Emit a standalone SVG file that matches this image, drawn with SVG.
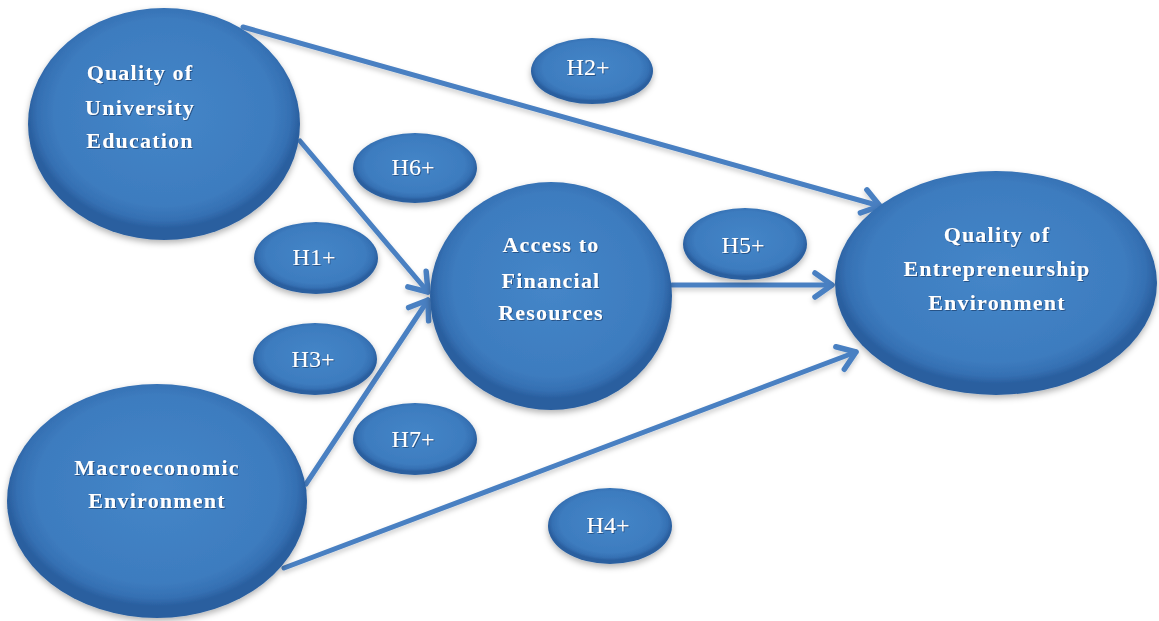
<svg xmlns="http://www.w3.org/2000/svg" width="1159" height="621" viewBox="0 0 1159 621">
  <defs>
    <radialGradient id="blueFill" cx="50%" cy="45%" r="50%">
      <stop offset="0%" stop-color="#4586c8"/>
      <stop offset="80%" stop-color="#3d7cbf"/>
      <stop offset="93%" stop-color="#3570b3"/>
      <stop offset="100%" stop-color="#2a5f9f"/>
    </radialGradient>
    <filter id="shadow" x="-20%" y="-20%" width="140%" height="150%">
      <feDropShadow dx="0" dy="3" stdDeviation="3" flood-color="#000" flood-opacity="0.3"/>
    </filter>
    <filter id="lineShadow" x="-10%" y="-10%" width="120%" height="140%">
      <feDropShadow dx="0" dy="3" stdDeviation="2.5" flood-color="#000" flood-opacity="0.2"/>
    </filter>
    <filter id="textShadow" x="-10%" y="-20%" width="120%" height="150%">
      <feDropShadow dx="1" dy="1" stdDeviation="0.6" flood-color="#1c3f6e" flood-opacity="0.7"/>
    </filter>
    <marker id="arrow" markerUnits="userSpaceOnUse" markerWidth="40" markerHeight="40" refX="0" refY="0" orient="auto" overflow="visible" viewBox="-25 -20 40 40">
      <path d="M-17,-12 L0,0 L-17,12" fill="none" stroke="#4a80c2" stroke-width="5.5" stroke-linecap="round" stroke-linejoin="round"/>
    </marker>
    <style>
      .node { fill: url(#blueFill); filter: url(#shadow); }
      .title { font-family: "Liberation Serif", "Times New Roman", serif; font-size: 22px; font-weight: bold; fill: #ffffff; text-anchor: middle; letter-spacing: 1.2px; filter: url(#textShadow); }
      .hyp { font-family: "Liberation Serif", "Times New Roman", serif; font-size: 24px; fill: #ffffff; text-anchor: middle; filter: url(#textShadow); }
      .link { fill: none; stroke: #4a80c2; stroke-width: 5; stroke-linecap: round; marker-end: url(#arrow); }
    </style>
  </defs>

  <rect width="1159" height="621" fill="#ffffff"/>

  <!-- connectors -->
  <g id="connectors" filter="url(#lineShadow)">
    <line class="link" x1="243" y1="27" x2="880" y2="206"/>
    <line class="link" x1="300" y1="141" x2="428" y2="292"/>
    <line class="link" x1="306" y1="484" x2="428" y2="300"/>
    <line class="link" x1="284" y1="568" x2="856" y2="352"/>
    <line class="link" x1="672" y1="285" x2="832" y2="285"/>
  </g>

  <!-- main constructs -->
  <g id="university-education">
    <ellipse class="node" cx="164" cy="124" rx="136" ry="116"/>
    <text class="title" x="140" y="80">Quality of</text>
    <text class="title" x="140" y="115">University</text>
    <text class="title" x="140" y="148">Education</text>
  </g>

  <g id="financial-resources">
    <ellipse class="node" cx="551" cy="296" rx="121" ry="114"/>
    <text class="title" x="551" y="252">Access to</text>
    <text class="title" x="551" y="288">Financial</text>
    <text class="title" x="551" y="320">Resources</text>
  </g>

  <g id="entrepreneurship-environment">
    <ellipse class="node" cx="996" cy="283" rx="161" ry="112"/>
    <text class="title" x="997" y="242">Quality of</text>
    <text class="title" x="997" y="276">Entrepreneurship</text>
    <text class="title" x="997" y="310">Environment</text>
  </g>

  <g id="macroeconomic-environment">
    <ellipse class="node" cx="157" cy="501" rx="150" ry="117"/>
    <text class="title" x="157" y="475">Macroeconomic</text>
    <text class="title" x="157" y="508">Environment</text>
  </g>

  <!-- hypothesis labels -->
  <g id="h2">
    <ellipse class="node" cx="592" cy="71" rx="61" ry="33"/>
    <text class="hyp" x="588" y="75">H2+</text>
  </g>
  <g id="h6">
    <ellipse class="node" cx="415" cy="168" rx="62" ry="35"/>
    <text class="hyp" x="413" y="175">H6+</text>
  </g>
  <g id="h1">
    <ellipse class="node" cx="316" cy="258" rx="62" ry="36"/>
    <text class="hyp" x="314" y="265">H1+</text>
  </g>
  <g id="h5">
    <ellipse class="node" cx="745" cy="244" rx="62" ry="36"/>
    <text class="hyp" x="743" y="253">H5+</text>
  </g>
  <g id="h3">
    <ellipse class="node" cx="315" cy="359" rx="62" ry="36"/>
    <text class="hyp" x="313" y="367">H3+</text>
  </g>
  <g id="h7">
    <ellipse class="node" cx="415" cy="439" rx="62" ry="36"/>
    <text class="hyp" x="413" y="447">H7+</text>
  </g>
  <g id="h4">
    <ellipse class="node" cx="610" cy="526" rx="62" ry="38"/>
    <text class="hyp" x="608" y="533">H4+</text>
  </g>
</svg>
